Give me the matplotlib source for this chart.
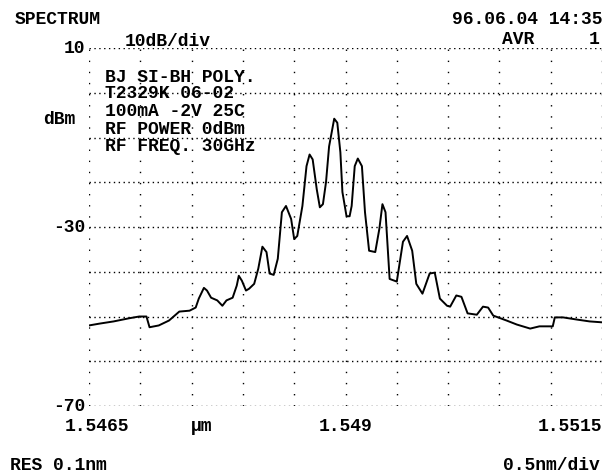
import matplotlib
matplotlib.use('Agg')
import matplotlib.pyplot as plt

# optical spectrum trace (wavelength in um, level in dBm)
wavelength = [1.54650, 1.54660, 1.54674, 1.54689, 1.54699, 1.54706, 1.54709, 1.54718,
              1.54728, 1.54738, 1.54748, 1.54754, 1.54757, 1.54762, 1.54765, 1.54769,
              1.54775, 1.54780, 1.54784, 1.54790, 1.54794, 1.54796, 1.54799, 1.54803,
              1.54806, 1.54811, 1.54815, 1.54819, 1.54823, 1.54826, 1.54830, 1.54834,
              1.54838, 1.54842, 1.54847, 1.54850, 1.54853, 1.54858, 1.54862, 1.54865,
              1.54868, 1.54872, 1.54875, 1.54878, 1.54881, 1.54884, 1.54889, 1.54892,
              1.54895, 1.54897, 1.54901, 1.54904, 1.54906, 1.54909, 1.54912, 1.54916,
              1.54919, 1.54923, 1.54929, 1.54933, 1.54936, 1.54939, 1.54943, 1.54950,
              1.54956, 1.54960, 1.54965, 1.54969, 1.54975, 1.54982, 1.54987, 1.54992,
              1.54999, 1.55002, 1.55008, 1.55013, 1.55019, 1.55028, 1.55034, 1.55039,
              1.55044, 1.55057, 1.55067, 1.55080, 1.55089, 1.55102, 1.55104, 1.55112,
              1.55126, 1.55138, 1.55150]
level = [-52.0, -51.6, -51.1, -50.4, -50.0, -50.0, -52.4, -52.0,
         -50.9, -48.9, -48.7, -48.0, -46.0, -43.6, -44.2, -45.8,
         -46.4, -47.6, -46.4, -45.8, -43.1, -40.9, -42.0, -44.2,
         -43.8, -42.7, -39.3, -34.4, -35.6, -40.4, -40.7, -37.1,
         -26.7, -25.3, -28.2, -32.7, -32.0, -25.3, -16.4, -13.8,
         -14.9, -21.6, -25.6, -24.9, -20.0, -12.0, -5.8, -6.7,
         -13.3, -22.2, -27.6, -27.6, -25.3, -16.4, -14.7, -16.4,
         -26.7, -35.3, -35.6, -30.4, -24.9, -26.7, -41.6, -42.2,
         -33.3, -32.0, -35.3, -42.7, -44.9, -40.4, -40.2, -46.0,
         -47.6, -47.8, -45.3, -45.6, -49.3, -49.6, -47.8, -48.0,
         -49.8, -50.9, -51.8, -52.7, -52.2, -52.2, -50.2, -50.2,
         -50.7, -51.1, -51.3]

x_ticks = [1.5465, 1.549, 1.5515]
x_tick_labels = ['1.5465', '1.549', '1.5515']
y_ticks = [10, -30, -70]
y_tick_labels = ['10', '-30', '-70']
notes = ['BJ SI-BH POLY.', 'T2329K 06-02', '100mA -2V 25C', 'RF POWER 0dBm', 'RF FREQ. 30GHz']

W, H = 610, 472
FONT = dict(family='Liberation Mono', fontsize=13, weight='bold', color='black')

fig = plt.figure(figsize=(W / 100, H / 100), dpi=100)
ax = fig.add_axes([89 / W, 1 - 406 / H, (602 - 89) / W, (406 - 48) / H])
ax.set_xlim(1.5465, 1.5515)
ax.set_ylim(-70, 10)

# dotted grid: 10 divisions across, 8 down
for i in range(11):
    ax.axvline(1.5465 + i * 0.0005, color='black', lw=1.0, ls=(0, (1, 7)))
for j in range(9):
    ax.axhline(10 - j * 10, color='black', lw=1.0, ls=(0, (1, 2.5)))
for s in ax.spines.values():
    s.set_visible(False)
ax.set_xticks([])
ax.set_yticks([])

ax.plot(wavelength, level, color='black', lw=1.4)

def put(x, y, s, ha='left'):
    fig.text(x / W, 1 - y / H, s, ha=ha, va='center', **FONT)

put(15, 20, 'SPECTRUM')
put(125, 41, '10dB/div')
put(602, 19, '96.06.04 14:35', ha='right')
put(502, 39, 'AVR')
put(600, 39, '1', ha='right')
put(43, 120, 'dBm')
for k, s in enumerate(notes):
    put(105, [77, 93, 112, 129, 146][k], s)

for v, s in zip(y_ticks, y_tick_labels):
    ax.text(-0.008, v, s, transform=ax.get_yaxis_transform(), ha='right', va='center', **FONT)
ax.text(x_ticks[0] + 0.00008, -74.5, x_tick_labels[0], ha='center', va='center', **FONT)
ax.text(x_ticks[1], -74.5, x_tick_labels[1], ha='center', va='center', **FONT)
ax.text(x_ticks[2], -74.5, x_tick_labels[2], ha='right', va='center', **FONT)
ax.text(1.5476, -74.5, '\u00b5m', ha='center', va='center', **FONT)

put(10, 465, 'RES 0.1nm')
put(600, 465, '0.5nm/div', ha='right')

fig.savefig('out.png', dpi=100)
